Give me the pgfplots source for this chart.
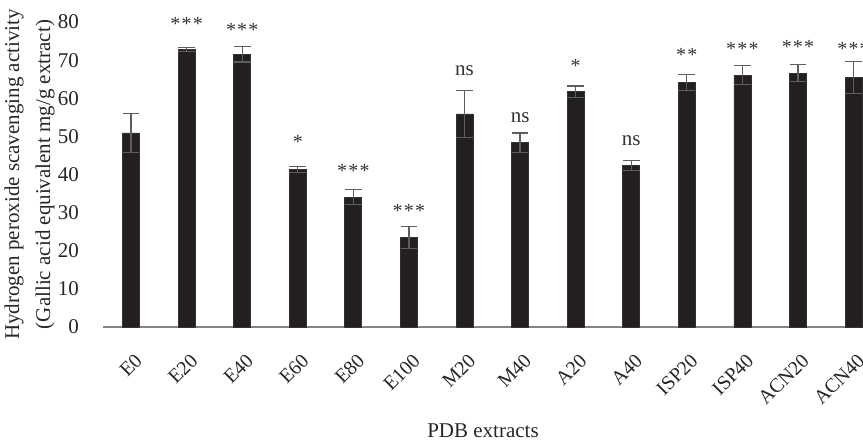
\documentclass[border=0pt]{standalone}
\usepackage{pgfplots}
\pgfplotsset{compat=1.18}
\usepackage{pgfplotstable}
\usepackage{fontspec}
\setmainfont{Liberation Serif}
\definecolor{barc}{HTML}{231F20}
\definecolor{errc}{HTML}{5E5E5E}
\definecolor{axc}{HTML}{858585}
\DeclareRobustCommand\sone{*}
\DeclareRobustCommand\stwo{*\hspace{0.06em}*}
\DeclareRobustCommand\sthree{*\hspace{0.06em}*\hspace{0.06em}*}
\pgfplotstableread{
x y e
0 50.9 5.2
1 72.8 0.6
2 71.5 2.0
3 41.3 0.7
4 34.1 1.9
5 23.4 2.9
6 55.9 6.2
7 48.3 2.6
8 61.7 1.5
9 42.3 1.3
10 64.1 2.1
11 66.1 2.4
12 66.6 2.2
13 65.5 4.2
}\datatable
\begin{document}
\begin{tikzpicture}
\begin{axis}[
  scale only axis,
  width=380pt, height=152.5pt,
  xmin=-0.505, xmax=13.17, ymin=0, ymax=80,
  axis x line*=bottom, axis y line*=left,
  x axis line style={draw=axc, line width=0.8pt},
  y axis line style={draw=none},
  xtick={0,...,13},
  xticklabels={E0,E20,E40,E60,E80,E100,M20,M40,A20,A40,ISP20,ISP40,ACN20,ACN40},
  ytick={0,10,...,80},
  major tick length=0pt,
  /pgf/number format/assume math mode=true,
  tick label style={text=black!85},
  yticklabel style={font=\fontsize{10.5}{12}\selectfont, xshift=-8.5pt},
  xticklabel style={font=\fontsize{10}{12}\selectfont, rotate=45, anchor=north east, xshift=-4.5pt, yshift=-6.5pt},
  xlabel={PDB extracts},
  xlabel style={at={(axis description cs:0.5,-0.341)}, anchor=center, font=\fontsize{10.5}{12}\selectfont, text=black!85},
  ylabel={Hydrogen peroxide scavenging activity\\(Gallic acid equivalent mg/g extract)},
  ylabel style={at={(axis description cs:-0.0967,0.5)}, anchor=center, align=center, font=\fontsize{10.5}{15.5}\selectfont, text=black!85},
  clip=false,
]
\addplot[ybar, bar width=8.5pt, fill=barc, draw=barc!80!gray,
  error bars/.cd, y dir=both, y explicit,
  error bar style={errc, line width=0.6pt},
  error mark options={errc, rotate=90, mark size=4.2pt, line width=0.6pt}]
  table[x=x, y=y, y error=e]{\datatable};
\addplot[only marks, mark=none, point meta=explicit symbolic,
  nodes near coords,
  nodes near coords style={anchor=base, inner sep=0pt, font=\fontsize{10}{12}\selectfont, text=black!80}]
  coordinates {
  (1,77.8) [\sthree]
  (2,76.2) [\sthree]
  (3,46.7) [\sone]
  (4,39.3) [\sthree]
  (5,28.6) [\sthree]
  (8,66.7) [\sone]
  (10,69.6) [\stwo]
  (11,71.1) [\sthree]
  (12,71.7) [\sthree]
  (13,71.1) [\sthree]
  };
\addplot[only marks, mark=none, point meta=explicit symbolic,
  nodes near coords,
  nodes near coords style={anchor=base, inner sep=0pt, font=\fontsize{10.5}{12}\selectfont, text=black!80}]
  coordinates {
  (6,66.0) [ns]
  (7,53.6) [ns]
  (9,47.7) [ns]
  };
\end{axis}
\pgfresetboundingbox
\useasboundingbox (-51.5pt,-57pt) rectangle (380pt,163.5pt);
\end{tikzpicture}
\end{document}
